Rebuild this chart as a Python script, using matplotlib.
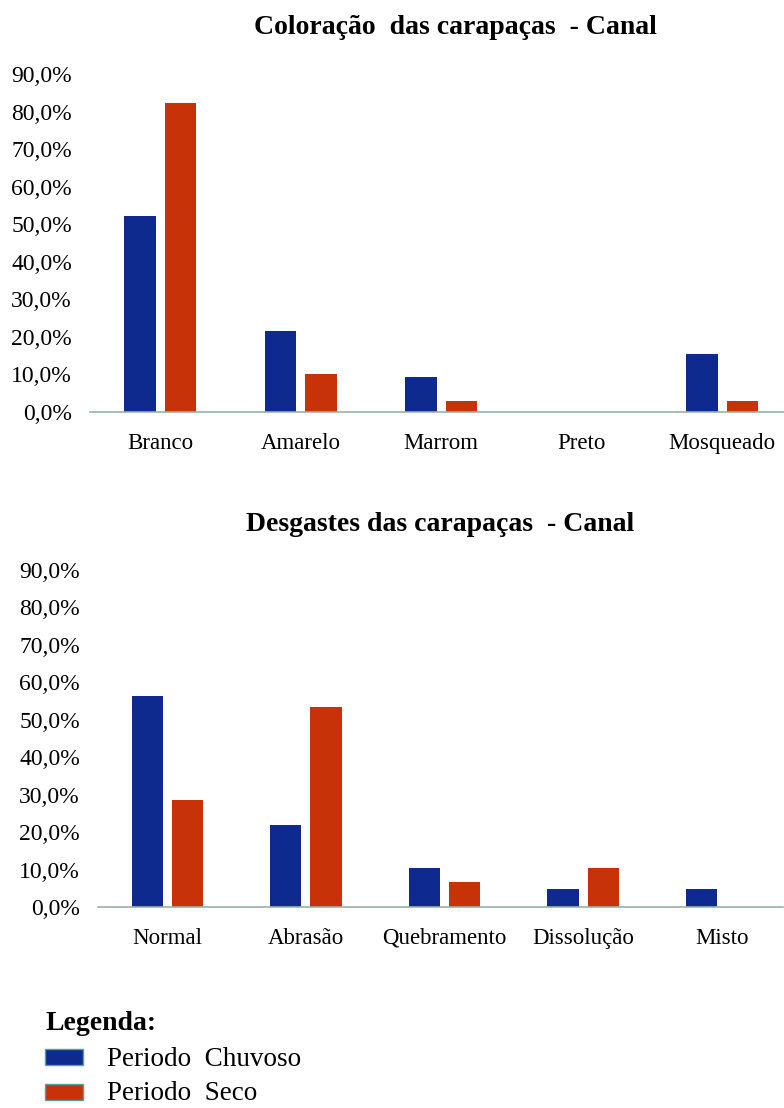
import matplotlib
matplotlib.use('Agg')
import matplotlib.pyplot as plt
import matplotlib.patches as mpatches
import numpy as np
from matplotlib.ticker import FuncFormatter

plt.rcParams['font.family'] = 'Liberation Serif'

# Data
cores = ['Branco', 'Amarelo', 'Marrom', 'Preto', 'Mosqueado']
cores_chuvoso = [52.3, 21.6, 9.2, 0.0, 15.4]
cores_seco = [82.2, 10.2, 2.9, 0.0, 2.9]

desgastes = ['Normal', 'Abrasão', 'Quebramento', 'Dissolução', 'Misto']
desg_chuvoso = [56.4, 21.8, 10.4, 4.7, 4.7]
desg_seco = [28.6, 53.5, 6.8, 10.4, 0.0]

yticks = [0, 10, 20, 30, 40, 50, 60, 70, 80, 90]

BLUE = '#0e2a8e'
RED = '#c83208'

W, H = 784, 1108
fig = plt.figure(figsize=(W / 100, H / 100), dpi=100)


def px_axes(left, right, y0, y90):
    # convert pixel box to figure fraction
    return fig.add_axes([left / W, 1 - y0 / H, (right - left) / W, (y0 - y90) / H])


def draw_panel(ax, cats, chuvoso, seco, title, xmax, title_x, pad):
    x = np.arange(len(cats))
    width = 0.225
    ax.bar(x - 0.145, chuvoso, width, color=BLUE)
    ax.bar(x + 0.145, seco, width, color=RED)
    ax.set_xlim(-0.5, xmax)
    ax.set_ylim(0, 90)
    ax.set_yticks(yticks)
    ax.yaxis.set_major_formatter(FuncFormatter(lambda v, p: f'{v:.1f}%'.replace('.', ',')))
    ax.set_xticks(x)
    ax.set_xticklabels(cats, fontsize=16.5)
    ax.tick_params(axis='y', length=0, pad=pad, labelsize=17)
    ax.tick_params(axis='x', length=0, pad=15)
    for s in ['top', 'right', 'left']:
        ax.spines[s].set_visible(False)
    ax.spines['bottom'].set_color('#9ab0a8')
    ax.spines['bottom'].set_linestyle((0, (1, 1)))
    ax.spines['bottom'].set_linewidth(1.2)
    fig.text(title_x / W, 1 - title[1] / H, title[0], ha='center', va='center',
             fontsize=20, fontweight='bold')


ax1 = px_axes(90, 784, 412, 74)
draw_panel(ax1, cores, cores_chuvoso, cores_seco,
           ('Coloração  das carapaças  - Canal', 27), 4.44, 455, 13)

ax2 = px_axes(98, 784, 907, 570)
draw_panel(ax2, desgastes, desg_chuvoso, desg_seco,
           ('Desgastes das carapaças  - Canal', 524), 4.45, 440, 13)

# Legend
fig.text(45 / W, 1 - 1023 / H, 'Legenda:', fontsize=20, fontweight='bold', va='center')
for yy, col, lab in [(1057, BLUE, 'Periodo  Chuvoso'), (1092, RED, 'Periodo  Seco')]:
    fig.patches.append(mpatches.Rectangle((45 / W, 1 - (yy + 8) / H), 38 / W, 16 / H,
                                          facecolor=col, edgecolor='#5a9ea0', linewidth=1,
                                          transform=fig.transFigure))
    fig.text(107 / W, 1 - (yy + 2) / H, lab, fontsize=19.5, va='center')

fig.savefig('out.png', dpi=100)
